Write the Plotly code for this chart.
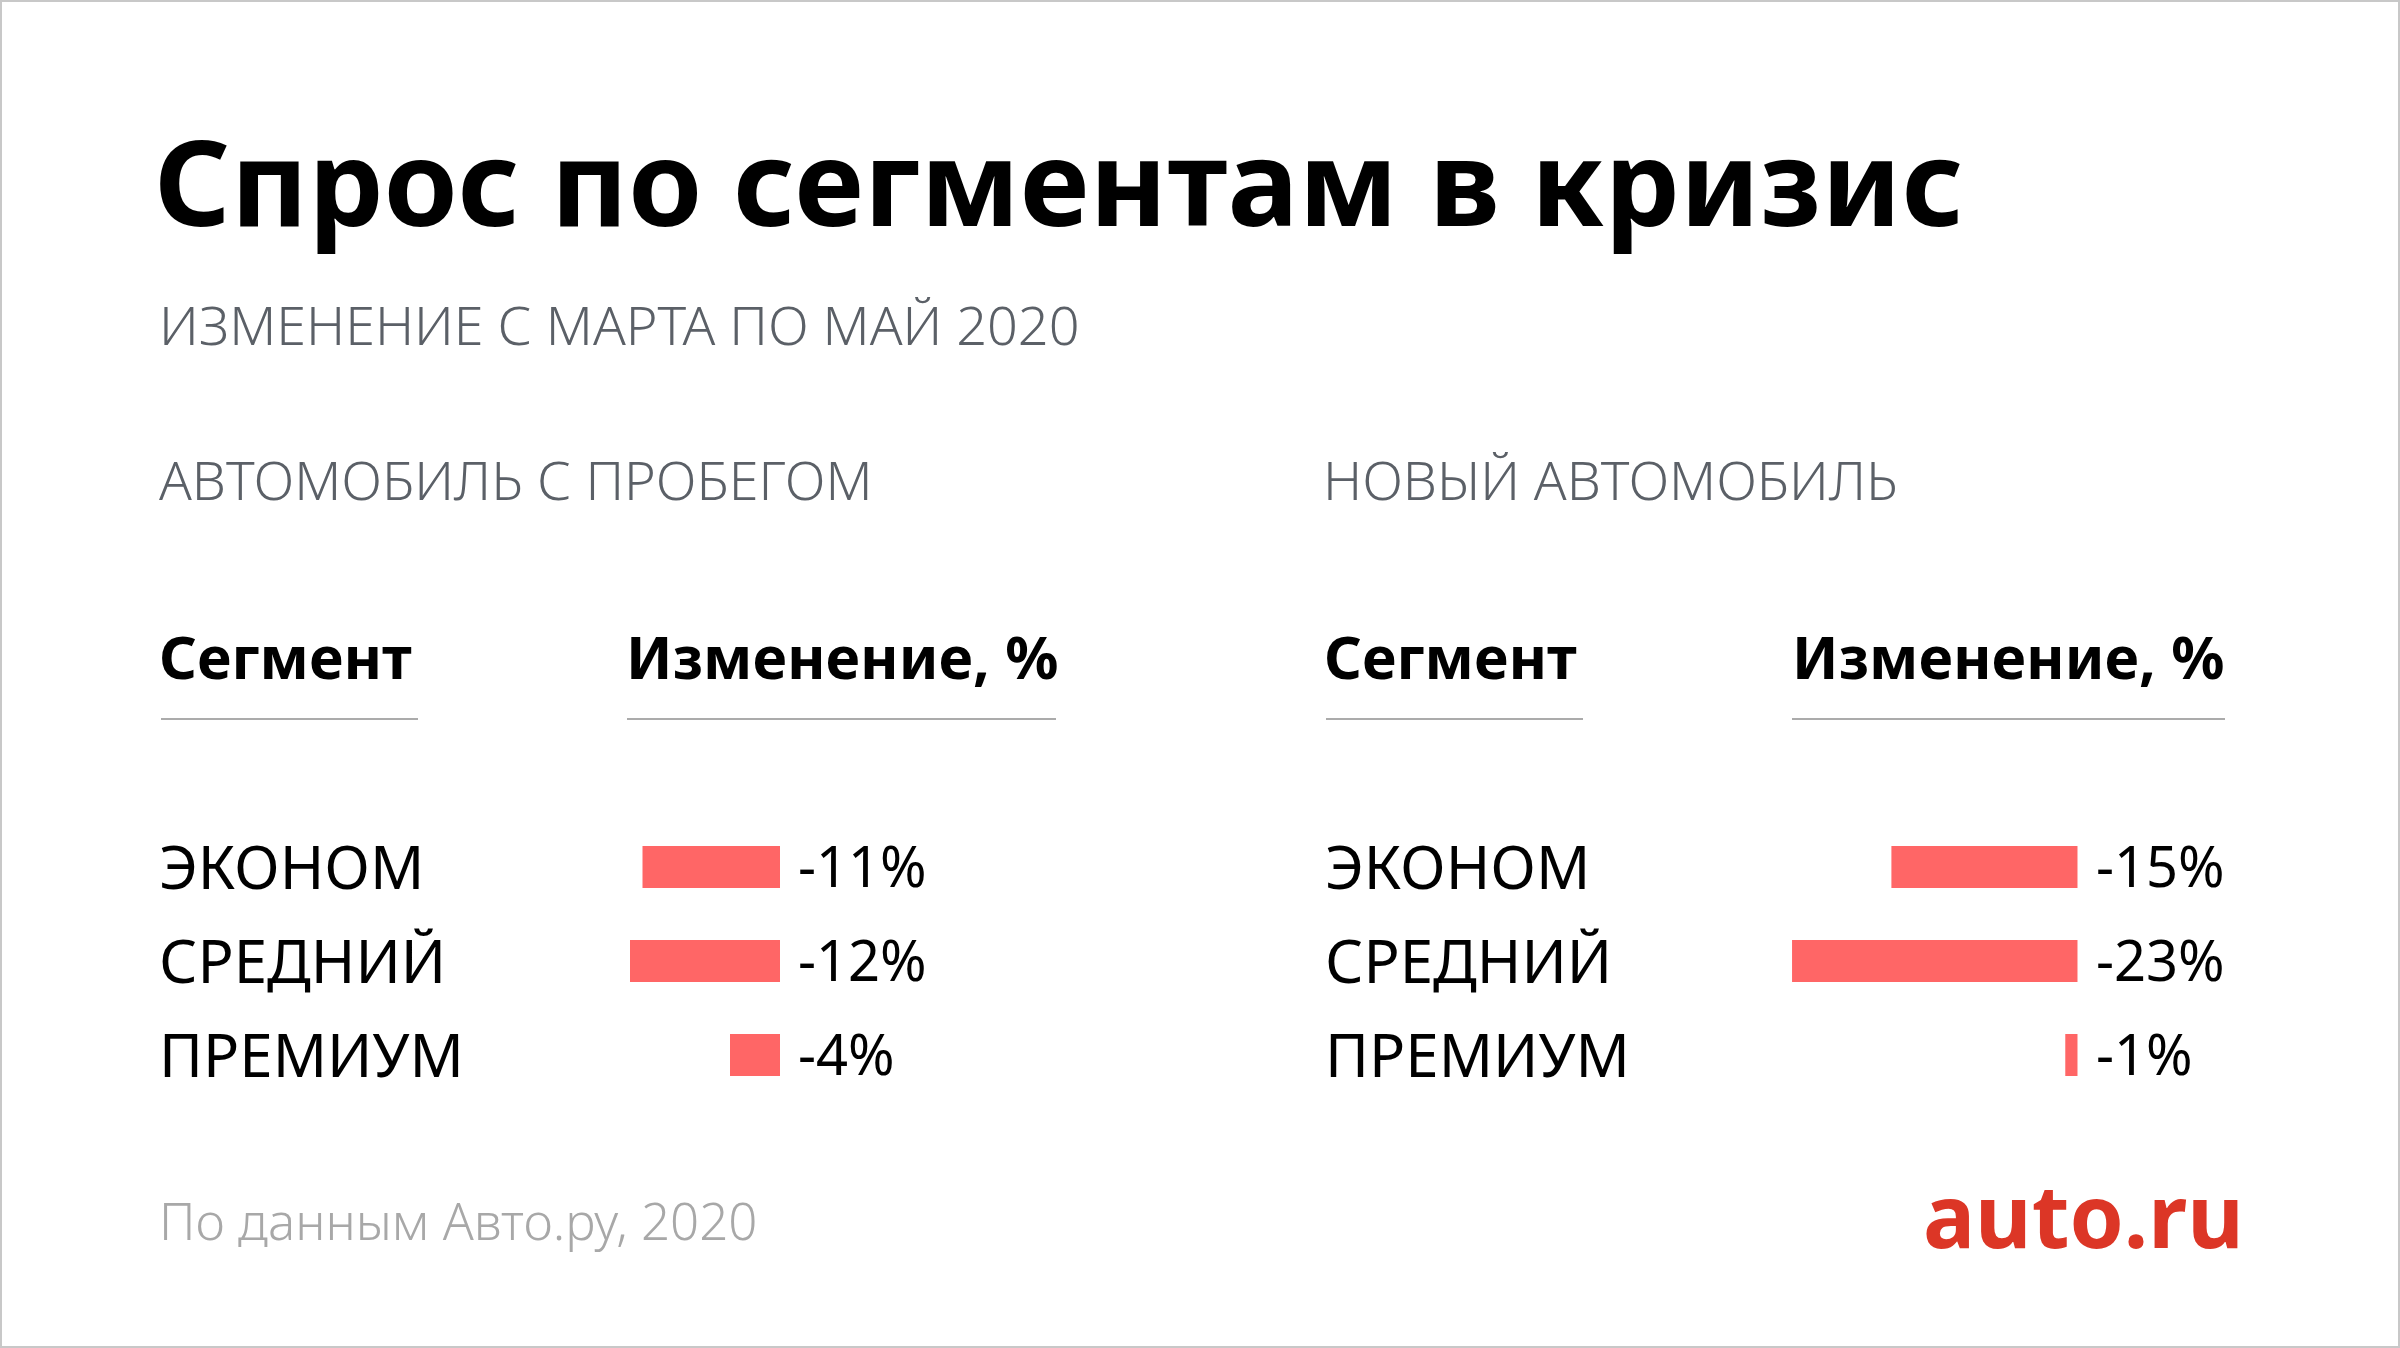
import plotly.graph_objects as go

W, H = 2400, 1348

title = "Спрос по сегментам в кризис"
subtitle = "ИЗМЕНЕНИЕ С МАРТА ПО МАЙ 2020"
panel_titles = ["АВТОМОБИЛЬ С ПРОБЕГОМ", "НОВЫЙ АВТОМОБИЛЬ"]
col_headers = ["Сегмент", "Изменение, %"]
segments = ["ЭКОНОМ", "СРЕДНИЙ", "ПРЕМИУМ"]
used_change = [-11, -12, -4]
new_change = [-15, -23, -1]
source = "По данным Авто.ру, 2020"
logo = "auto.ru"

FONT = "Noto Sans"
BAR = "#ff6666"
GREY = "#5b6067"


def px(x):
    return x / W


def py(y):
    return 1 - y / H


fig = go.Figure()

# bars: left panel on x/y, right panel on x2/y2
fig.add_trace(go.Bar(y=segments, x=used_change, orientation="h", marker=dict(color=BAR, line_width=0),
                     width=0.447, xaxis="x", yaxis="y", hoverinfo="skip"))
fig.add_trace(go.Bar(y=segments, x=new_change, orientation="h", marker=dict(color=BAR, line_width=0),
                     width=0.447, xaxis="x2", yaxis="y2", hoverinfo="skip"))

ydom = [py(1102), py(820)]
fig.update_layout(
    width=W, height=H, margin=dict(l=0, r=0, t=0, b=0),
    paper_bgcolor="white", plot_bgcolor="rgba(0,0,0,0)", showlegend=False,
    xaxis=dict(domain=[px(380), px(780)], range=[-32, 0], visible=False, fixedrange=True),
    yaxis=dict(domain=ydom, range=[2.5, -0.5], visible=False, type="category",
               categoryorder="array", categoryarray=segments, fixedrange=True),
    xaxis2=dict(domain=[px(2077.7 - 400), px(2077.7)], range=[-400 / 12.42, 0], visible=False,
                anchor="y2", fixedrange=True),
    yaxis2=dict(domain=ydom, range=[2.5, -0.5], visible=False, type="category",
                categoryorder="array", categoryarray=segments, anchor="x2", fixedrange=True),
)

ann = []


def txt(text, x, y, size, color="black", weight=400, xanchor="left"):
    ann.append(dict(text=text, x=px(x), y=py(y), xref="paper", yref="paper", xanchor=xanchor,
                    yanchor="middle", showarrow=False,
                    font=dict(family=FONT, size=size, color=color, weight=weight)))


txt(title, 152, 180, 119, weight=700)
txt(subtitle, 157, 324, 54, color=GREY, weight=300)
txt(panel_titles[0], 157, 479, 54, color=GREY, weight=300)
txt(panel_titles[1], 1321, 479, 54, color=GREY, weight=300)
for x0 in (161, 1326):
    txt(col_headers[0], x0 - 4, 656, 59, weight=700)
for x0 in (628, 1794):
    txt(col_headers[1], x0 - 4, 656, 59, weight=700)

# row labels and value labels
for i, seg in enumerate(segments):
    for xr, ya, vals, xa in ((161, "y", used_change, "x"), (1327, "y2", new_change, "x2")):
        ann.append(dict(text=seg, x=px(xr - 4), y=seg, xref="paper", yref=ya, xanchor="left",
                        yanchor="middle", showarrow=False, yshift=1,
                        font=dict(family=FONT, size=60, color="black", weight=400)))
        ann.append(dict(text=f"{vals[i]}%", x=0, y=seg, xref=xa, yref=ya, xanchor="left",
                        yanchor="middle", showarrow=False, xshift=16, yshift=2,
                        font=dict(family=FONT, size=56, color="black", weight=400)))

txt(source, 157, 1220, 51, color="#a8a8a8", weight=300)
txt(logo, 2246, 1214, 87, color="#dc3626", weight=700, xanchor="right")

fig.update_layout(annotations=ann)

shapes = []
for x0, x1 in ((161, 418), (627, 1056), (1326, 1583), (1792, 2225)):
    shapes.append(dict(type="line", xref="paper", yref="paper", x0=px(x0), x1=px(x1), y0=py(719), y1=py(719),
                       line=dict(color="#ababab", width=2)))
shapes.append(dict(type="rect", xref="paper", yref="paper", x0=0, x1=1, y0=0, y1=1,
                   line=dict(color="#c8c8c8", width=4), fillcolor="rgba(0,0,0,0)"))
fig.update_layout(shapes=shapes)

fig.write_html("out.html", config={"displayModeBar": False},
               post_script="document.body.style.margin='0';")
